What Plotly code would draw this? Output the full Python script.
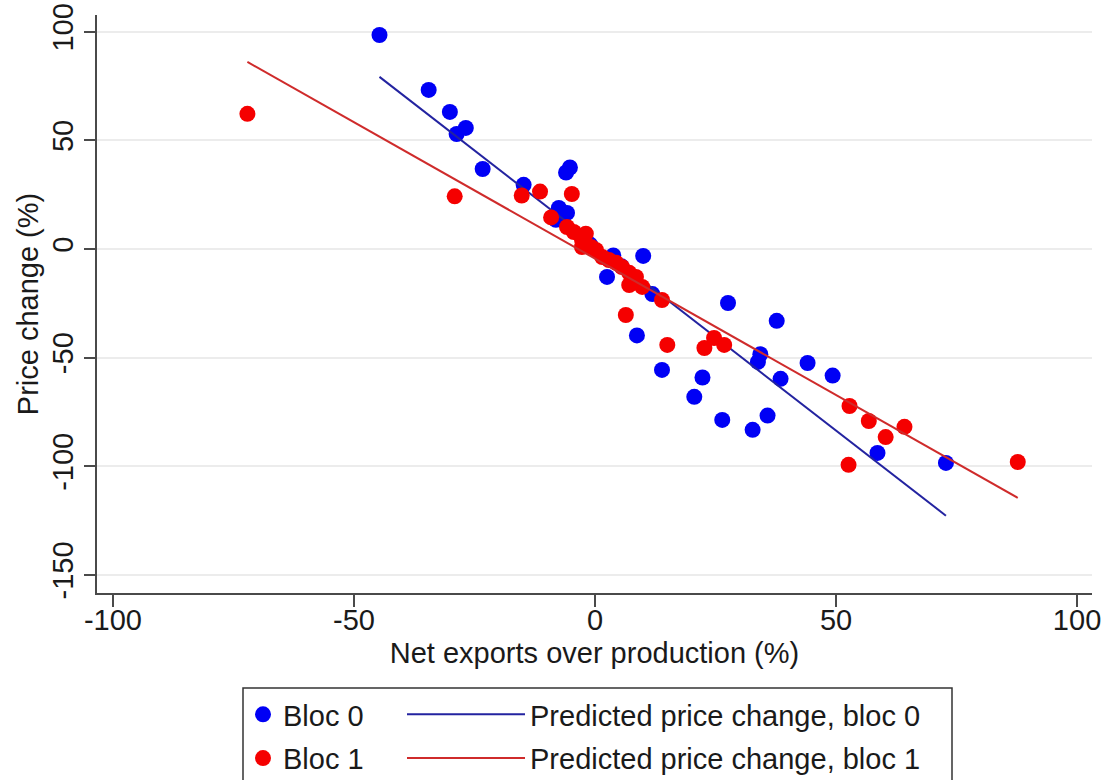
import plotly.graph_objects as go

# Observed points: net exports over production (%) vs price change (%)
bloc0_x = [-44.7, -34.5, -30.1, -28.7, -26.8, -23.3, -14.8, -6.0, -5.2, -7.5, -5.8, -8.1,
           -1.0, 3.8, 10.0, 2.5, 11.9, 5.5, 8.7, 13.9, 20.6, 22.3, 27.6, 26.4, 32.7,
           34.3, 33.8, 35.8, 37.7, 38.5, 44.1, 49.3, 58.6, 72.8]
bloc0_y = [98.5, 73.2, 63.1, 52.9, 55.7, 36.8, 29.5, 35.2, 37.5, 18.9, 16.6, 13.4,
           2.0, -3.0, -3.2, -12.9, -20.8, -8.0, -39.8, -55.7, -68.1, -59.2, -24.9, -78.7, -83.3,
           -48.5, -52.0, -76.7, -33.1, -59.8, -52.5, -58.3, -93.9, -98.5]

bloc1_x = [-72.1, -29.1, -15.2, -11.4, -4.8, -9.1, -5.8, -4.4, -1.9, -2.7, -2.7, -0.8,
           0.2, 1.5, 2.9, 4.4, 5.6, 7.1, 8.5, 7.1, 9.8, 13.9, 6.4, 15.0, 22.7, 24.7,
           26.8, 52.8, 56.8, 60.3, 64.2, 52.6, 87.7]
bloc1_y = [62.2, 24.2, 24.6, 26.4, 25.3, 14.5, 10.1, 7.8, 7.0, 4.1, 0.9, 0.9,
           -0.5, -3.7, -5.1, -6.4, -8.3, -11.0, -12.9, -16.6, -17.5, -23.5, -30.4, -44.2, -45.6, -41.0,
           -44.2, -72.3, -79.2, -86.6, -81.9, -99.4, -98.1]

# Fitted (predicted) price change at the extremes of each bloc's range
pred0_x = [-44.7, 72.8]
pred0_y = [79.2, -122.8]
pred1_x = [-72.1, 87.7]
pred1_y = [86.1, -114.6]

x_ticks = [-100, -50, 0, 50, 100]
x_ticktext = ["-100", "-50", "0", "50", "100"]
y_ticks = [-150, -100, -50, 0, 50, 100]
y_ticktext = ["-150", "-100", "-50", "0", "50", "100"]

FONT = "Arial, Liberation Sans, sans-serif"
FS = 29
AXIS_COLOR = "#4a4a4a"

fig = go.Figure()

fig.add_trace(go.Scatter(
    x=bloc0_x, y=bloc0_y, mode="markers", name="Bloc 0",
    marker=dict(color="#0000f5", size=16, line=dict(width=0)),
    legend="legend", legendgroup="b0",
))
fig.add_trace(go.Scatter(
    x=pred0_x, y=pred0_y, mode="lines", name="Predicted price change, bloc 0",
    line=dict(color="#2323a0", width=2),
    legend="legend2", legendgroup="p0",
))
fig.add_trace(go.Scatter(
    x=bloc1_x, y=bloc1_y, mode="markers", name="Bloc 1",
    marker=dict(color="#f50000", size=16, line=dict(width=0)),
    legend="legend", legendgroup="b1",
))
fig.add_trace(go.Scatter(
    x=pred1_x, y=pred1_y, mode="lines", name="Predicted price change, bloc 1",
    line=dict(color="#cf2b2b", width=2),
    legend="legend2", legendgroup="p1",
))

# Plot area in pixels: left 97, right 1092, top 15, bottom 593
W, H = 1101, 780
L, R, T = 97, 9, 15
PLOT_BOTTOM = 593
LEGEND_TOP = 689
B = H - PLOT_BOTTOM
pw = W - L - R
ph = PLOT_BOTTOM - T


def px_x(p):
    return (p - L) / pw


def px_y(p):
    return (PLOT_BOTTOM - p) / ph


fig.update_layout(
    width=W, height=H,
    margin=dict(l=L, r=R, t=T, b=B, pad=0),
    paper_bgcolor="white", plot_bgcolor="white",
    font=dict(family=FONT, size=FS, color="#1a1a1a"),
    xaxis=dict(
        range=[-103.3, 103.1], tickvals=x_ticks, ticktext=x_ticktext,
        ticks="outside", ticklen=12, automargin=False,
        ticklabeloverflow="allow", ticklabelstandoff=-12,
        tickwidth=1.5, tickcolor=AXIS_COLOR, showline=True, linecolor=AXIS_COLOR,
        linewidth=1.5, showgrid=False, zeroline=False,
        tickfont=dict(size=FS), title=dict(text="Net exports over production (%)",
                                           font=dict(size=FS), standoff=8),
    ),
    yaxis=dict(
        range=[-158.4, 107.7], tickvals=y_ticks, ticktext=y_ticktext,
        ticks="outside", ticklen=11, automargin=False,
        ticklabeloverflow="allow",
        tickwidth=1.5, tickcolor=AXIS_COLOR, showline=True, linecolor=AXIS_COLOR,
        linewidth=1.5, showgrid=True, gridcolor="#ececec", gridwidth=2,
        zeroline=False, tickangle=-90,
        tickfont=dict(size=FS), title=dict(text="Price change (%)",
                                           font=dict(size=FS), standoff=0),
    ),
    legend=dict(
        x=px_x(243), xref="paper", xanchor="left",
        y=(H - LEGEND_TOP) / H, yref="container", yanchor="top",
        orientation="v", bgcolor="rgba(0,0,0,0)", borderwidth=0,
        font=dict(size=FS), itemsizing="trace", tracegroupgap=3,
    ),
    legend2=dict(
        x=px_x(402), xref="paper", xanchor="left",
        y=(H - LEGEND_TOP) / H, yref="container", yanchor="top",
        orientation="v", bgcolor="rgba(0,0,0,0)", borderwidth=0,
        font=dict(size=FS), itemwidth=118, tracegroupgap=3,
    ),
    shapes=[dict(
        type="rect", xref="paper", yref="paper",
        x0=px_x(243), x1=px_x(952), y0=px_y(688), y1=px_y(783),
        line=dict(color="#333333", width=1.5), fillcolor="rgba(0,0,0,0)",
        layer="above",
    )],
)

fig.write_html("out.html")
